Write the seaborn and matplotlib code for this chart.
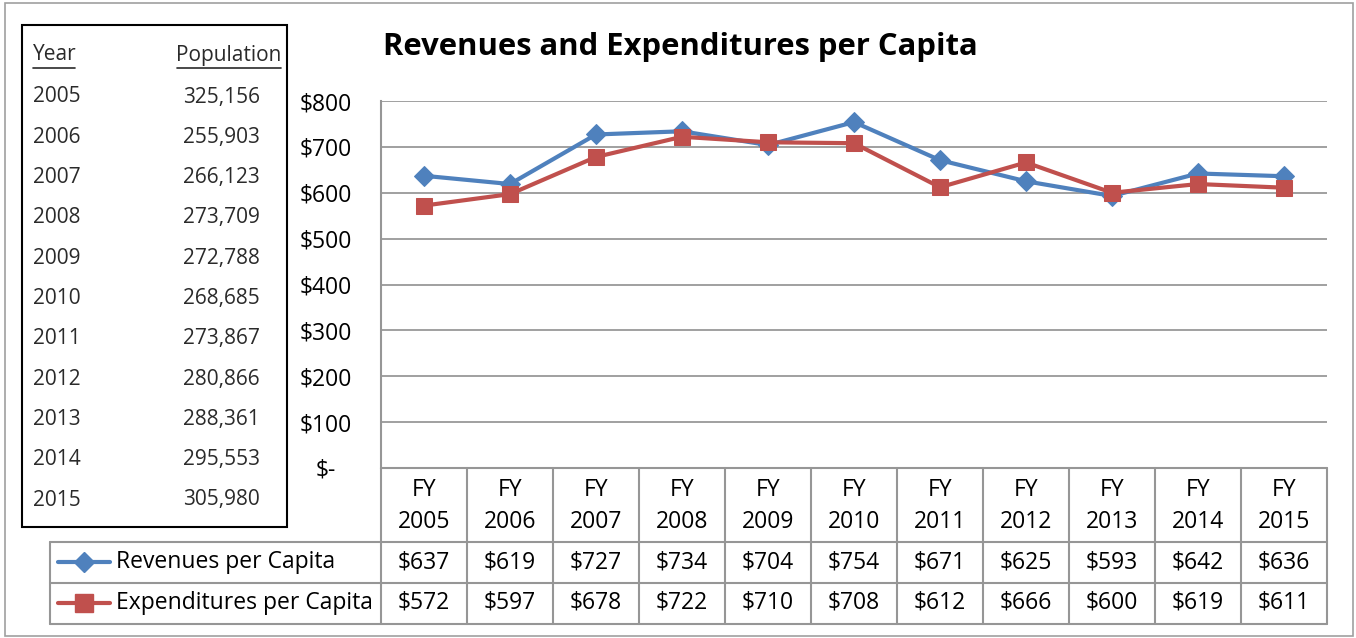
import matplotlib
matplotlib.use("Agg")
import matplotlib.pyplot as plt
import matplotlib.transforms as mtransforms
from matplotlib.lines import Line2D
from matplotlib.patches import Rectangle
import seaborn as sns
import pandas as pd

# data
years = ["2005", "2006", "2007", "2008", "2009", "2010",
         "2011", "2012", "2013", "2014", "2015"]
populations = ["325,156", "255,903", "266,123", "273,709", "272,788", "268,685",
               "273,867", "280,866", "288,361", "295,553", "305,980"]
fiscal_years = ["FY\n" + y for y in years]
revenues = [637, 619, 727, 734, 704, 754, 671, 625, 593, 642, 636]
expenditures = [572, 597, 678, 722, 710, 708, 612, 666, 600, 619, 611]
y_ticks = [0, 100, 200, 300, 400, 500, 600, 700, 800]
y_tick_labels = ["$-", "$100", "$200", "$300", "$400", "$500", "$600", "$700", "$800"]

BLUE = "#4F81BD"
RED = "#C0504D"
GRID = "#868686"
CELL = "#969696"

sns.set_style("white")
plt.rcParams["font.family"] = ["Open Sans", "DejaVu Sans"]
plt.rcParams["text.color"] = "black"
plt.rcParams["ytick.color"] = "black"

W, H = 1356, 638
fig = plt.figure(figsize=(W / 100, H / 100), dpi=100)


def fx(px):
    return px / W


def fy(py):
    return 1 - py / H


# plot area
ax = fig.add_axes([fx(381), fy(468), fx(1327) - fx(381), fy(101) - fy(468)])
df = pd.DataFrame({"x": range(len(years)), "rev": revenues, "exp": expenditures})
sns.lineplot(data=df, x="x", y="rev", ax=ax, color=BLUE, lw=3, marker="D",
             markersize=10, markeredgecolor=BLUE, label="Revenues per Capita", legend=False)
sns.lineplot(data=df, x="x", y="exp", ax=ax, color=RED, lw=3, marker="s",
             markersize=11, markeredgecolor=RED, label="Expenditures per Capita", legend=False)
ax.set_xlim(-0.5, len(years) - 0.5)
ax.set_ylim(0, 800)
ax.set_yticks(y_ticks)
ax.set_yticklabels(y_tick_labels, fontsize=16.5, ha="center")
ax.tick_params(axis="y", length=0, pad=40)
ax.set_xticks([])
ax.set_xlabel("")
ax.set_ylabel("")
for v in y_ticks[1:]:
    ax.axhline(v, color=GRID, lw=1.1, zorder=0)
for s in ["top", "right", "bottom"]:
    ax.spines[s].set_visible(False)
ax.spines["left"].set_color(CELL)
ax.spines["left"].set_linewidth(1.5)

# title
fig.text(fx(680), fy(47), "Revenues and Expenditures per Capita",
         fontsize=22.3, fontweight="bold", ha="center", va="center")

# data table under the chart
tr = mtransforms.blended_transform_factory(ax.transData, fig.transFigure)
n = len(years)
for i in range(n + 1):
    ax.add_line(Line2D([i - 0.5, i - 0.5], [fy(468), fy(624)], transform=tr,
                       color=CELL, lw=1.5, clip_on=False))
ax.add_line(Line2D([-0.5, n - 0.5], [fy(468), fy(468)], transform=tr,
                   color=CELL, lw=1.5, clip_on=False))
for py in [542, 583, 624]:
    fig.add_artist(Line2D([fx(50), fx(1327)], [fy(py), fy(py)], color=CELL, lw=1.5))
fig.add_artist(Line2D([fx(50), fx(50)], [fy(542), fy(624)], color=CELL, lw=1.5))

for i in range(n):
    ax.text(i, fy(506), fiscal_years[i], transform=tr, ha="center", va="center",
            fontsize=16.5, linespacing=1.45)
    ax.text(i, fy(562), "$" + str(revenues[i]), transform=tr, ha="center",
            va="center", fontsize=16.5)
    ax.text(i, fy(603), "$" + str(expenditures[i]), transform=tr, ha="center",
            va="center", fontsize=16.5)

# legend keys inside the table
fig.add_artist(Line2D([fx(58), fx(84), fx(110)], [fy(562)] * 3, color=BLUE, lw=3,
                      marker="D", markersize=10, markevery=[1],
                      solid_capstyle="round"))
fig.add_artist(Line2D([fx(58), fx(84), fx(110)], [fy(603)] * 3, color=RED, lw=3,
                      marker="s", markersize=13, markevery=[1],
                      solid_capstyle="round"))
fig.text(fx(116), fy(562), "Revenues per Capita", fontsize=16.5, va="center")
fig.text(fx(116), fy(603), "Expenditures per Capita", fontsize=16.5, va="center")

# population box
fig.add_artist(Rectangle((fx(22), fy(527)), fx(287) - fx(22), fy(25) - fy(527),
                         fill=False, ec="black", lw=1.5))
pop_color = "#2a2a2a"
fig.text(fx(33), fy(55), "Year", fontsize=15, va="center", color=pop_color)
fig.text(fx(281), fy(55), "Population", fontsize=15, va="center", ha="right",
         color=pop_color)
fig.add_artist(Line2D([fx(33), fx(75)], [fy(68), fy(68)], color=pop_color, lw=1.2))
fig.add_artist(Line2D([fx(177), fx(281)], [fy(68), fy(68)], color=pop_color, lw=1.2))
for i, (yr, pop) in enumerate(zip(years, populations)):
    yy = 97 + i * 40.3
    fig.text(fx(33), fy(yy), yr, fontsize=15, va="center", color=pop_color)
    fig.text(fx(260), fy(yy), pop, fontsize=15, va="center", ha="right",
             color=pop_color)

# outer frame
fig.add_artist(Rectangle((fx(5), fy(636)), fx(1353) - fx(5), fy(3) - fy(636),
                         fill=False, ec="#A0A0A0", lw=1.2))

fig.savefig("out.png", dpi=100)
